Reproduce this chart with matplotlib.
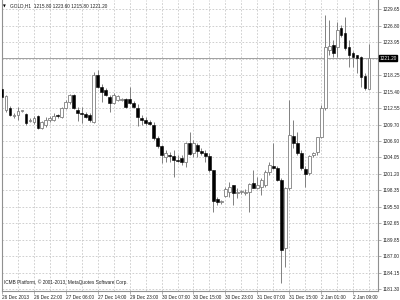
import matplotlib
matplotlib.use("Agg")
import matplotlib.pyplot as plt
from matplotlib import transforms

symbol = "GOLD,H1"
header_ohlc = ["1215.80", "1223.60", "1215.80", "1221.20"]
copyright_text = "ICMB Platform, © 2001-2013, MetaQuotes Software Corp."
last_price = 1221.20

opens = [1215.85, 1212.22, 1212.57, 1211.19, 1211.36, 1212.05, 1211.53, 1210.32, 1210.15, 1211.19,
         1209.11, 1209.63, 1210.50, 1210.50, 1211.36, 1211.01, 1212.57, 1213.60, 1214.81, 1212.22,
         1211.70, 1211.53, 1211.36, 1210.15, 1218.27, 1216.20, 1215.68, 1214.47, 1213.43, 1213.95,
         1213.95, 1214.12, 1214.12, 1213.43, 1212.57, 1210.84, 1210.50, 1210.15, 1209.63, 1207.39,
         1206.01, 1204.11, 1204.45, 1204.28, 1203.59, 1203.93, 1203.24, 1206.52, 1204.80, 1206.18,
         1205.14, 1204.80, 1204.28, 1201.86, 1196.85, 1196.33, 1197.37, 1198.06, 1199.27, 1197.89,
         1198.06, 1197.89, 1198.06, 1199.62, 1198.75, 1198.93, 1199.27, 1201.52, 1202.55, 1202.21,
         1200.13, 1188.39, 1198.75, 1207.73, 1206.52, 1204.80, 1202.03, 1201.34, 1204.45, 1204.97,
         1207.56, 1212.57, 1222.58, 1223.45, 1223.10, 1226.38, 1225.52, 1223.10, 1222.07, 1221.72,
         1221.38, 1218.09, 1215.80]
highs = [1216.20, 1214.81, 1212.91, 1211.70, 1212.74, 1212.22, 1211.70, 1210.84, 1211.19, 1211.36,
         1210.32, 1211.01, 1211.19, 1211.70, 1211.53, 1212.74, 1213.95, 1214.99, 1214.99, 1212.74,
         1212.74, 1211.88, 1211.70, 1218.79, 1219.13, 1216.71, 1216.02, 1214.81, 1215.16, 1214.81,
         1214.30, 1214.30, 1216.20, 1213.78, 1213.26, 1211.36, 1211.01, 1210.50, 1210.15, 1207.73,
         1206.18, 1205.31, 1204.97, 1205.31, 1204.45, 1204.45, 1206.70, 1208.42, 1207.04, 1206.52,
         1205.66, 1205.31, 1204.80, 1201.86, 1197.20, 1196.68, 1198.93, 1199.79, 1199.27, 1198.75,
         1198.41, 1198.58, 1199.62, 1201.86, 1200.65, 1200.48, 1201.86, 1203.24, 1206.52, 1202.55,
         1200.48, 1198.93, 1213.95, 1210.50, 1208.42, 1205.31, 1202.55, 1204.45, 1204.97, 1207.56,
         1213.09, 1228.63, 1227.77, 1224.31, 1227.42, 1226.90, 1228.28, 1224.31, 1222.41, 1221.72,
         1221.55, 1218.61, 1223.60]
lows = [1214.30, 1211.88, 1211.19, 1210.84, 1210.50, 1211.88, 1209.63, 1210.15, 1209.81, 1208.94,
        1208.94, 1209.29, 1210.15, 1210.32, 1210.84, 1210.84, 1212.40, 1213.26, 1212.40, 1210.32,
        1209.98, 1210.84, 1210.15, 1209.98, 1216.02, 1213.60, 1214.64, 1211.88, 1213.26, 1213.78,
        1213.78, 1212.57, 1213.26, 1212.57, 1209.46, 1209.63, 1209.63, 1209.63, 1207.04, 1205.66,
        1203.07, 1203.24, 1203.24, 1200.65, 1203.24, 1202.72, 1202.38, 1204.45, 1204.11, 1204.11,
        1204.45, 1203.24, 1201.52, 1194.61, 1195.82, 1195.99, 1197.20, 1197.20, 1195.82, 1197.03,
        1197.72, 1197.54, 1194.61, 1198.75, 1198.58, 1197.54, 1198.93, 1201.00, 1202.03, 1199.96,
        1182.35, 1185.11, 1198.41, 1205.66, 1204.45, 1201.86, 1198.93, 1201.00, 1204.11, 1204.45,
        1207.39, 1212.22, 1221.72, 1221.38, 1221.38, 1224.83, 1222.58, 1219.65, 1219.65, 1218.61,
        1216.20, 1215.68, 1215.80]
closes = [1214.47, 1214.64, 1211.36, 1211.36, 1212.05, 1212.05, 1209.98, 1210.50, 1210.84, 1209.11,
          1210.15, 1210.50, 1210.84, 1211.19, 1211.19, 1212.57, 1213.60, 1214.81, 1212.57, 1211.70,
          1211.53, 1211.01, 1210.50, 1218.27, 1216.20, 1215.33, 1214.81, 1213.43, 1214.81, 1214.64,
          1213.95, 1212.74, 1213.43, 1212.74, 1211.01, 1210.50, 1209.98, 1209.81, 1207.39, 1206.01,
          1204.45, 1204.80, 1204.28, 1203.59, 1203.42, 1203.24, 1206.52, 1204.62, 1206.52, 1205.14,
          1204.80, 1204.28, 1201.86, 1196.51, 1196.33, 1196.33, 1198.58, 1198.93, 1197.89, 1198.06,
          1198.06, 1198.06, 1199.44, 1198.75, 1199.27, 1200.13, 1201.52, 1202.72, 1202.21, 1200.13,
          1188.04, 1198.75, 1207.91, 1206.52, 1204.80, 1202.21, 1201.17, 1204.28, 1204.80, 1207.56,
          1212.57, 1223.10, 1223.28, 1222.07, 1226.04, 1225.18, 1222.93, 1221.72, 1221.38, 1221.20,
          1217.92, 1216.02, 1221.20]

x_tick_pos = [0, 8, 16, 24, 32, 40, 48, 56, 64, 72, 80, 88]
x_tick_labels = ["26 Dec 2013", "26 Dec 22:00", "27 Dec 06:00", "27 Dec 14:00", "29 Dec 23:00",
                 "30 Dec 07:00", "30 Dec 15:00", "30 Dec 23:00", "31 Dec 07:00", "31 Dec 15:00",
                 "2 Jan 01:00", "2 Jan 09:00"]
y_ticks = [1229.65, 1226.80, 1223.95, 1221.10, 1218.25, 1215.40, 1212.55, 1209.70, 1206.90,
           1204.05, 1201.20, 1198.35, 1195.50, 1192.65, 1189.85, 1187.00, 1184.15, 1181.30]

FONT = "Liberation Sans"
FS = 3.4
GRID = "#c8c8c8"
WICK = "#808080"

fig = plt.figure(figsize=(4, 3), dpi=100)
fig.patch.set_facecolor("white")
ax = fig.add_axes([0.005, 0.03, 0.94, 0.97])
ax.set_facecolor("white")

xmin = 0.25
ax.set_xlim(xmin, xmin + 94)
ax.set_ylim(1180.96, 1231.22)

# grid
for gx in range(4, 96, 4):
    ax.axvline(gx, color=GRID, lw=0.6, ls=(0, (2, 2)), zorder=0)
for gy in y_ticks:
    ax.axhline(gy, color=GRID, lw=0.6, ls=(0, (2, 2)), zorder=0)

# bid line
ax.axhline(last_price, color="#a0a0a0", lw=0.7, zorder=1)

w = 0.7
for i in range(len(opens)):
    o, h, l, c = opens[i], highs[i], lows[i], closes[i]
    ax.vlines(i, l, h, color=WICK, lw=0.7, zorder=2)
    bottom = min(o, c)
    height = max(abs(c - o), 0.12)
    if c >= o:
        ax.bar(i, height, w, bottom=bottom, facecolor="white", edgecolor=WICK, lw=0.6, zorder=3)
    else:
        ax.bar(i, height, w, bottom=bottom, facecolor="black", edgecolor="black", lw=0.4, zorder=3)

for s in ["top"]:
    ax.spines[s].set_visible(False)
for s in ["left", "bottom", "right"]:
    ax.spines[s].set_color("#909090")
    ax.spines[s].set_linewidth(0.8)

ax.yaxis.tick_right()
ax.set_yticks(y_ticks)
ylabels = ["%.2f" % v for v in y_ticks]
ylabels[3] = ""
ax.set_yticklabels(ylabels, fontsize=FS, family=FONT, color="#202020")
ax.tick_params(axis="y", length=2, width=0.5, pad=1.5, colors="#909090", labelcolor="#202020")

ax.set_xticks(x_tick_pos)
ax.set_xticklabels(x_tick_labels, fontsize=FS, family=FONT, color="#202020")
for lab in ax.get_xticklabels():
    lab.set_horizontalalignment("left")
ax.tick_params(axis="x", length=2, width=0.5, pad=1.0, colors="#909090", labelcolor="#202020")

# current price box
ax.text(1.004, last_price, "%.2f" % last_price, transform=ax.get_yaxis_transform(),
        fontsize=FS, family=FONT, color="white", va="center", ha="left",
        bbox=dict(boxstyle="square,pad=0.15", facecolor="black", edgecolor="black"))

# header
fig.text(0.008, 0.985, "▼", fontsize=2.6, family="DejaVu Sans", color="black", va="top", ha="left")
fig.text(0.024, 0.988, symbol + "  " + " ".join(header_ohlc), fontsize=FS, family=FONT,
         color="#202020", va="top", ha="left")

# copyright
ax.text(0.006, 0.02, copyright_text, transform=ax.transAxes, fontsize=FS, family=FONT,
        color="#202020", va="bottom", ha="left")

fig.savefig("out.png", dpi=100, facecolor="white")
